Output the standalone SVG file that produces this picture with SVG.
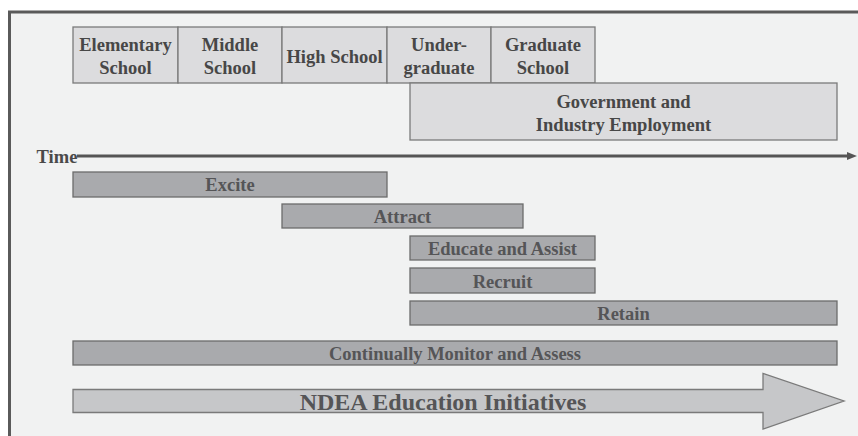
<svg xmlns="http://www.w3.org/2000/svg" width="858" height="436" viewBox="0 0 858 436">
<defs>
<style>
text{font-weight:bold;font-size:18.5px;text-anchor:middle}
.box rect{fill:#dcdcde;stroke:#7a7a7a;stroke-width:1.3}
.box text{fill:#474747}
.bar rect{fill:#a9aaad;stroke:#6c6c6c;stroke-width:1.3}
.bar text{fill:#555557}
</style>
<marker id="ah" markerWidth="10" markerHeight="8" refX="1" refY="4" orient="auto" markerUnits="userSpaceOnUse">
<path d="M0,0 L10,4 L0,8 Z" fill="#555"/>
</marker>
</defs>
<rect x="0" y="0" width="858" height="436" fill="#ffffff"/>
<rect x="9.5" y="12" width="860" height="440" fill="#f1f2f2" stroke="#5a5a5a" stroke-width="3"/>
<g font-family="Liberation Serif, DejaVu Serif, serif">
<g id="elementary" class="box"><rect x="73" y="27" width="105" height="56"/><text x="125.5" y="51">Elementary</text><text x="125.5" y="74">School</text></g>
<g id="middle" class="box"><rect x="178" y="27" width="104" height="56"/><text x="230" y="51">Middle</text><text x="230" y="74">School</text></g>
<g id="high" class="box"><rect x="282" y="27" width="105" height="56"/><text x="334.5" y="63">High School</text></g>
<g id="undergrad" class="box"><rect x="387" y="27" width="104" height="56"/><text x="439" y="51">Under-</text><text x="439" y="74">graduate</text></g>
<g id="graduate" class="box"><rect x="491" y="27" width="104" height="56"/><text x="543" y="51">Graduate</text><text x="543" y="74">School</text></g>
<g id="employment" class="box"><rect x="410" y="83" width="427" height="57"/><text x="623.5" y="108">Government and</text><text x="623.5" y="131">Industry Employment</text></g>

<g id="connectors">
<line x1="77" y1="156" x2="848" y2="156" stroke="#555" stroke-width="3" marker-end="url(#ah)"/>
</g>
<g id="time"><text x="57" y="163" fill="#4a4a4a">Time</text></g>

<g id="excite" class="bar"><rect x="73" y="172" width="314" height="25"/><text x="230" y="191">Excite</text></g>
<g id="attract" class="bar"><rect x="282" y="204" width="241" height="24"/><text x="402.5" y="222.5">Attract</text></g>
<g id="educate" class="bar"><rect x="410" y="236" width="185" height="24"/><text x="502.5" y="254.5">Educate and Assist</text></g>
<g id="recruit" class="bar"><rect x="410" y="268" width="185" height="25"/><text x="502.5" y="287.5">Recruit</text></g>
<g id="retain" class="bar"><rect x="410" y="301" width="427" height="24"/><text x="623.5" y="319.5">Retain</text></g>
<g id="monitor" class="bar"><rect x="73" y="341" width="764" height="24"/><text x="455" y="360">Continually Monitor and Assess</text></g>

<g id="ndea">
<path d="M73,389.5 L763,389.5 L763,373.5 L844,401 L763,429 L763,412.5 L73,412.5 Z" fill="#c6c7c9" stroke="#7a7a7a" stroke-width="1.3"/>
<text x="443" y="409.5" style="font-size:24px" fill="#555557">NDEA Education Initiatives</text>
</g>
</g>
</svg>
